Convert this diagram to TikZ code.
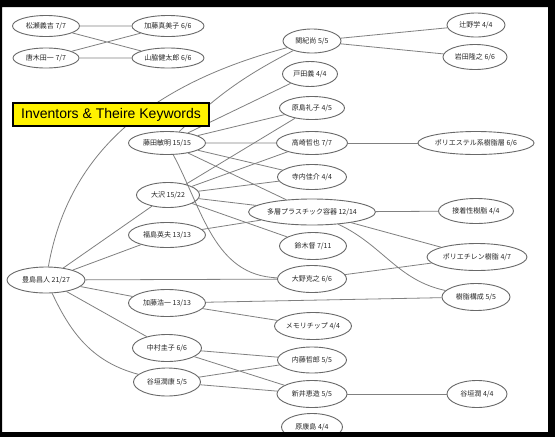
\documentclass[tikz,border=0pt]{standalone}
\usepackage{fontspec}
\setmainfont{Liberation Sans}
\newfontfamily\jpfont{Noto Sans CJK JP}
\usetikzlibrary{shapes.geometric}
\definecolor{edgegray}{RGB}{128,128,128}
\definecolor{ringgray}{RGB}{105,105,105}
\begin{document}
\begin{tikzpicture}[x=1pt,y=1pt,
  kw/.style={ellipse, draw=ringgray, line width=0.9pt, fill=white, inner sep=0pt,
    font=\jpfont\fontsize{7}{8}\selectfont, text=black!85},
  link/.style={draw=edgegray, line width=0.8pt},
  titlebox/.style={draw=black, line width=1.3pt, fill=yellow, inner sep=0pt,
    minimum width=196pt, minimum height=23pt, font=\fontsize{14}{16}\selectfont}
]
\useasboundingbox (0,0) rectangle (555,-437);
\fill[white] (0,0) rectangle (555,-437);

% inventors and keywords
\node[kw, minimum width=67, minimum height=21] (A1) at (46,-26)  {松瀬義吉 7/7};
\node[kw, minimum width=72, minimum height=21] (A2) at (168,-26) {加藤真美子 6/6};
\node[kw, minimum width=66, minimum height=20] (A3) at (46,-58)  {唐木田一 7/7};
\node[kw, minimum width=72, minimum height=20] (A4) at (168,-58) {山脇健太郎 6/6};

\node[kw, minimum width=58, minimum height=24] (B)  at (312,-41)  {関紀尚 5/5};
\node[kw, minimum width=58, minimum height=24] (C1) at (476,-25)  {辻野学 4/4};
\node[kw, minimum width=64, minimum height=25] (C2) at (475,-57)  {岩田隆之 6/6};
\node[kw, minimum width=55, minimum height=25] (D)  at (310,-74)  {戸田義 4/4};
\node[kw, minimum width=65, minimum height=23] (E)  at (312,-108) {原島礼子 4/5};
\node[kw, minimum width=77, minimum height=23] (F)  at (167,-143) {藤田敏明 15/15};
\node[kw, minimum width=71, minimum height=23] (G)  at (312,-143) {高崎哲也 7/7};
\node[kw, minimum width=116,minimum height=23] (H)  at (476,-143) {ポリエステル系樹脂層 6/6};
\node[kw, minimum width=69, minimum height=25] (I)  at (312,-177) {寺内佳介 4/4};
\node[kw, minimum width=63, minimum height=25] (J)  at (168,-195) {大沢 15/22};
\node[kw, minimum width=122,minimum height=26] (K)  at (312,-212) {多層プラスチック容器 12/14};
\node[kw, minimum width=75, minimum height=25] (L)  at (476,-211) {接着性樹脂 4/4};
\node[kw, minimum width=77, minimum height=25] (M)  at (167,-235) {福島英夫 13/13};
\node[kw, minimum width=67, minimum height=27] (N)  at (313,-246) {鈴木督 7/11};
\node[kw, minimum width=100,minimum height=27] (O)  at (477,-257) {ポリエチレン樹脂 4/7};
\node[kw, minimum width=78, minimum height=26] (P)  at (46,-280)  {豊島昌人 21/27};
\node[kw, minimum width=69, minimum height=27] (Q)  at (312,-279) {大野克之 6/6};
\node[kw, minimum width=77, minimum height=27] (R)  at (167,-303) {加藤浩一 13/13};
\node[kw, minimum width=68, minimum height=27] (S)  at (476,-297) {樹脂構成 5/5};
\node[kw, minimum width=77, minimum height=27] (T)  at (313,-326) {メモリチップ 4/4};
\node[kw, minimum width=69, minimum height=27] (U)  at (167,-348) {中村圭子 6/6};
\node[kw, minimum width=69, minimum height=26] (V)  at (312,-360) {内藤哲郎 5/5};
\node[kw, minimum width=67, minimum height=28] (W)  at (167,-382) {谷垣潤康 5/5};
\node[kw, minimum width=70, minimum height=27] (X)  at (312,-394) {新井恵造 5/5};
\node[kw, minimum width=60, minimum height=27] (Y)  at (477,-394) {谷垣潤 4/4};
\node[kw, minimum width=61, minimum height=27] (Z)  at (312,-427) {原康島 4/4};
\coordinate (Zlow) at (250,-452);

% connectors
\path[link] (A1) -- (A2)  (A1) -- (A4)  (A3) -- (A2)  (A3) -- (A4);
\path[link] (B) -- (C1)  (B) -- (C2);
\path[link] (P) to[out=80,in=195] (B);
\path[link] (F) to[bend left=8] (B);
\path[link] (F) -- (D)  (F) -- (E)  (F) -- (G)  (F) -- (I)  (F) -- (K);
\path[link] (F) to[out=-62,in=178] (Q);
\path[link] (J) -- (E)  (J) -- (G)  (J) -- (I)  (J) -- (K)  (J) -- (N);
\path[link] (G) -- (H);
\path[link] (K) -- (L)  (K) -- (O);
\path[link] (K) to[out=-25,in=168] (S);
\path[link] (M) -- (K);
\path[link] (P) -- (J)  (P) -- (M)  (P) -- (Q)  (P) -- (R)  (P) -- (U);
\path[link] (P) to[out=-65,in=165] (W);
\path[link] (Q) -- (O);
\path[link] (R) -- (S)  (R) -- (T);
\path[link] (U) -- (V)  (U) -- (X)  (W) -- (V)  (W) -- (X);
\path[link] (X) -- (Y);
\path[link] (Z) -- (Zlow);

% caption
\node[titlebox] (title) at (111,-114.5) {Inventors \& Theire Keywords};

% frame
\fill[black, even odd rule] (0,0) rectangle (555,-437) (2,-7) rectangle (548,-432);
\end{tikzpicture}
\end{document}
